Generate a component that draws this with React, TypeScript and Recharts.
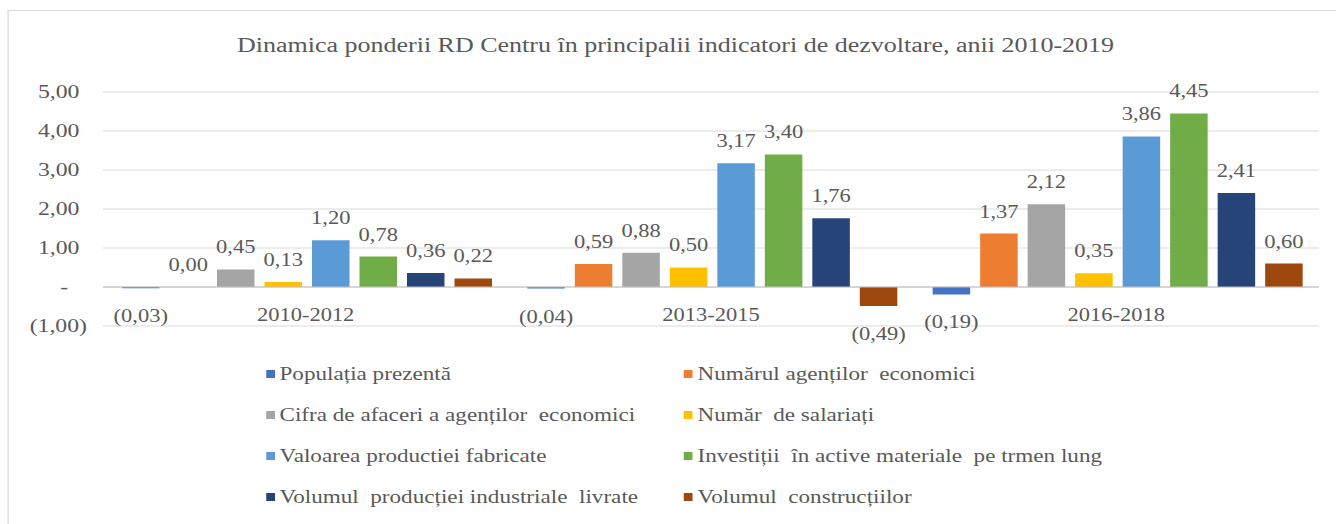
import { BarChart, Bar, XAxis, YAxis, CartesianGrid, LabelList, ReferenceLine } from 'recharts';

// the source picture is stretched horizontally, so everything is laid out narrow and scaled in x
const STRETCH = 1.25;
const PAGE_W = 1336;
const PAGE_H = 524;
const INNER_W = PAGE_W / STRETCH;

const FONT = '"Liberation Serif", "Times New Roman", serif';
const TEXT = '#595959';

const categories = ['2010-2012', '2013-2015', '2016-2018'];

const populatiaPrezenta = [-0.03, -0.04, -0.19];
const numarulAgentilor = [0.0, 0.59, 1.37];
const cifraDeAfaceri = [0.45, 0.88, 2.12];
const numarSalariati = [0.13, 0.5, 0.35];
const valoareaProductiei = [1.2, 3.17, 3.86];
const investitii = [0.78, 3.4, 4.45];
const volumulProductiei = [0.36, 1.76, 2.41];
const volumulConstructiilor = [0.22, -0.49, 0.6];

const yTicks = [-1, 0, 1, 2, 3, 4, 5];

const series = [
  { key: 'pop', name: 'Populația prezentă', color: '#4472C4', values: populatiaPrezenta },
  { key: 'agenti', name: 'Numărul agenților  economici', color: '#ED7D31', values: numarulAgentilor },
  { key: 'cifra', name: 'Cifra de afaceri a agenților  economici', color: '#A5A5A5', values: cifraDeAfaceri },
  { key: 'salariati', name: 'Număr  de salariați', color: '#FFC000', values: numarSalariati },
  { key: 'valoarea', name: 'Valoarea productiei fabricate', color: '#5B9BD5', values: valoareaProductiei },
  { key: 'investitii', name: 'Investiții  în active materiale  pe trmen lung', color: '#70AD47', values: investitii },
  { key: 'volProd', name: 'Volumul  producției industriale  livrate', color: '#264478', values: volumulProductiei },
  { key: 'volConstr', name: 'Volumul  construcțiilor', color: '#9E480E', values: volumulConstructiilor },
];

const data = categories.map((cat, i) => {
  const row: Record<string, string | number> = { cat };
  series.forEach((s) => {
    row[s.key] = s.values[i];
  });
  return row;
});

const num = (v: number) => Math.abs(v).toFixed(2).replace('.', ',');
const fmtLabel = (v: number) => (v < 0 ? `(${num(v)})` : num(v));
const fmtAxis = (v: number) => (v === 0 ? '-' : fmtLabel(v));

function YTick(props: any) {
  const { x, y, payload } = props;
  const v = Number(payload.value);
  const dx = v < 0 ? 0 : v === 0 ? -15 : -6;
  return (
    <text x={x} y={y} dx={dx} dy="0.33em" textAnchor="end" fill={TEXT} fontSize={19} fontFamily={FONT}>
      {fmtAxis(v)}
    </text>
  );
}

function XTick(props: any) {
  const { x, y, payload } = props;
  return (
    <text x={x} y={y} dy={-5} textAnchor="middle" fill={TEXT} fontSize={18} fontFamily={FONT}>
      {payload.value}
    </text>
  );
}

const renderLabel = (props: any) => {
  const x = Number(props.x);
  const y = Number(props.y);
  const width = Number(props.width);
  const height = Number(props.height);
  const v = Number(props.value);
  const top = Math.min(y, y + height);
  const bottom = Math.max(y, y + height);
  const ty = v < 0 ? bottom + 34 : top - 16;
  return (
    <text x={x + width / 2} y={ty} textAnchor="middle" fill={TEXT} fontSize={18} fontFamily={FONT}>
      {fmtLabel(v)}
    </text>
  );
};

// keep zero values as (invisible) rectangles so their label is still drawn
const keepZero = (v: any) => (Number(v) === 0 ? 0.1 : 0);

export default function App() {
  return (
    <div
      style={{
        position: 'fixed',
        left: 0,
        top: 0,
        width: PAGE_W,
        height: PAGE_H,
        overflow: 'hidden',
        background: '#fff',
      }}
    >
      <div
        style={{
          position: 'absolute',
          left: 0,
          top: 0,
          width: INNER_W,
          height: PAGE_H,
          transform: `scaleX(${STRETCH})`,
          transformOrigin: '0 0',
        }}
      >
        {/* chart frame, right and bottom edges fall outside the picture */}
        <div
          style={{
            position: 'absolute',
            left: 5.6,
            top: 10,
            width: 1100,
            height: 600,
            borderLeft: '1px solid #d9d9d9',
            borderTop: '1px solid #d9d9d9',
          }}
        />
        <div
          style={{
            position: 'absolute',
            left: 5.6,
            top: 33,
            width: 1069.6,
            textAlign: 'center',
            fontFamily: FONT,
            fontSize: 20.8,
            lineHeight: '24px',
            color: TEXT,
            whiteSpace: 'nowrap',
          }}
        >
          Dinamica ponderii RD Centru în principalii indicatori de dezvoltare, anii 2010-2019
        </div>
        <div style={{ position: 'absolute', left: 0, top: 0 }}>
          <BarChart
            width={INNER_W}
            height={352}
            data={data}
            margin={{ top: 92, right: 13.6, bottom: 12, left: 0 }}
            barCategoryGap={15.2}
            barGap={8}
          >
            <CartesianGrid vertical={false} stroke="#d9d9d9" />
            <XAxis
              dataKey="cat"
              height={14}
              axisLine={false}
              tickLine={false}
              tickSize={0}
              tickMargin={0}
              tick={<XTick />}
              interval={0}
            />
            <YAxis
              width={82.4}
              domain={[-1, 5]}
              ticks={yTicks}
              axisLine={false}
              tickLine={false}
              tickSize={0}
              tickMargin={12.8}
              tick={<YTick />}
              interval={0}
            />
            <ReferenceLine y={0} stroke="#bfbfbf" strokeWidth={1.2} />
            {series.map((s) => (
              <Bar
                key={s.key}
                dataKey={s.key}
                name={s.name}
                fill={s.color}
                minPointSize={keepZero}
                isAnimationActive={false}
              >
                <LabelList dataKey={s.key} content={renderLabel} />
              </Bar>
            ))}
          </BarChart>
        </div>
        <div
          style={{
            position: 'absolute',
            left: 212.8,
            top: 353.5,
            display: 'grid',
            gridTemplateColumns: '334.4px auto',
            gridAutoRows: '41px',
            fontFamily: FONT,
            fontSize: 18.5,
            color: TEXT,
          }}
        >
          {series.map((s) => (
            <div key={s.key} style={{ display: 'flex', alignItems: 'center', whiteSpace: 'pre' }}>
              <span
                style={{
                  display: 'inline-block',
                  width: 6.8,
                  height: 8,
                  background: s.color,
                  marginRight: 4,
                }}
              />
              <span>{s.name}</span>
            </div>
          ))}
        </div>
      </div>
    </div>
  );
}
